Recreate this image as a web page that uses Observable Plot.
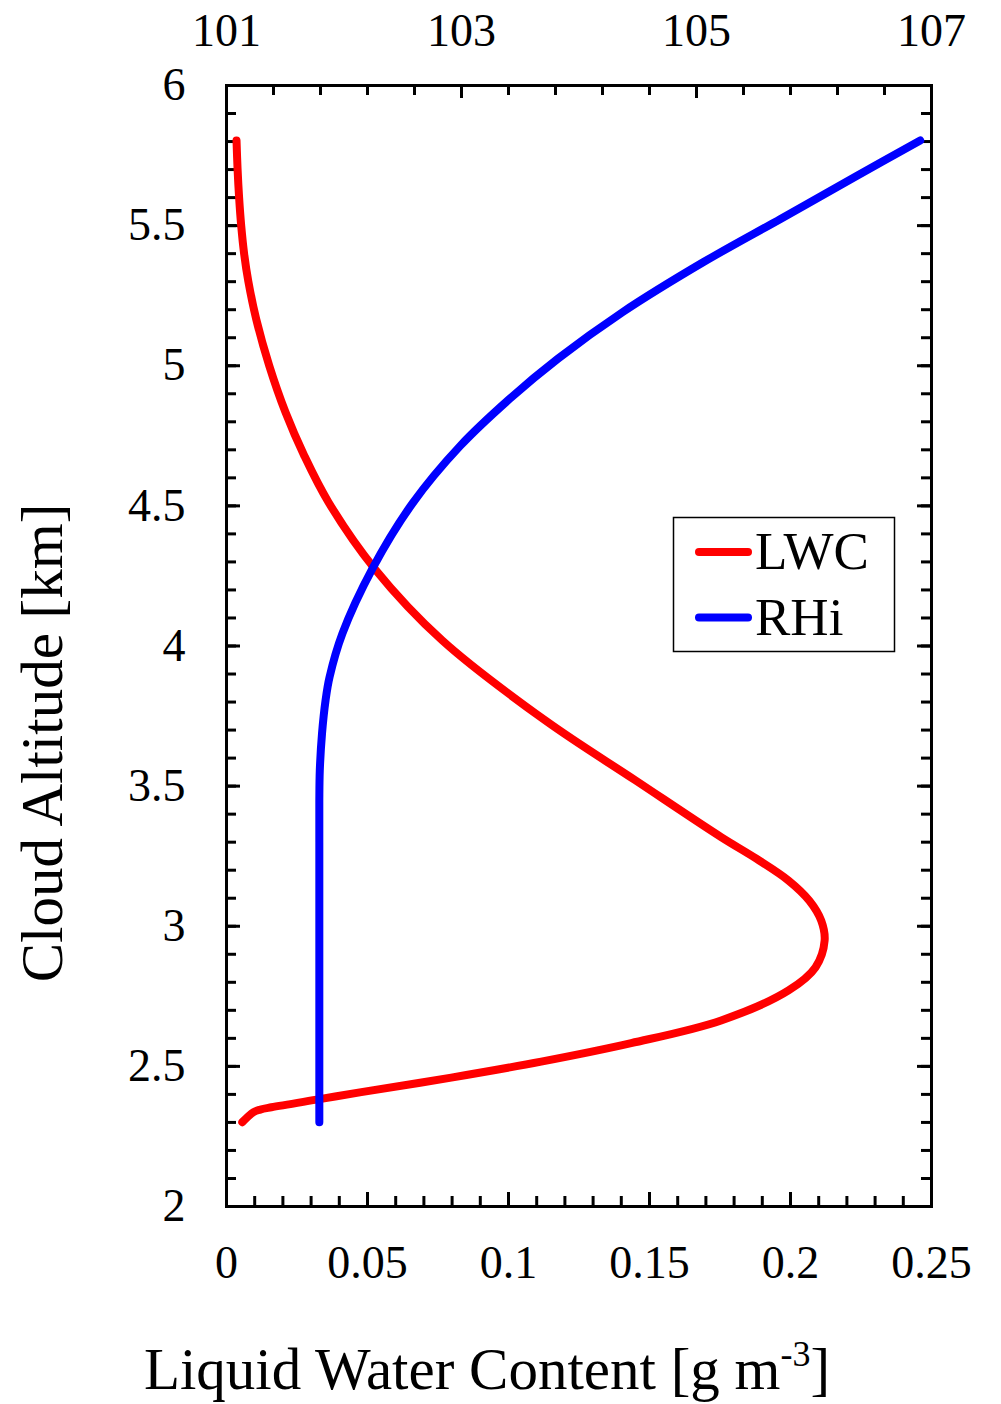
<!DOCTYPE html>
<html>
<head>
<meta charset="utf-8">
<script src="https://cdn.jsdelivr.net/npm/d3@7"></script>
<script src="https://cdn.jsdelivr.net/npm/@observablehq/plot@0.6"></script>
<style>
  html, body { margin: 0; padding: 0; background: #fff; }
  #chart { width: 1001px; height: 1404px; }
</style>
</head>
<body>
<div id="chart"></div>
<script>
// ---- data ----
const lwcAlt = [5.804, 5.703, 5.600, 5.500, 5.400, 5.301, 5.167, 5.001, 4.834, 4.680, 4.513, 4.275, 4.020, 3.734, 3.520, 3.318, 3.241, 3.163, 3.091, 3.020, 2.949, 2.854, 2.771, 2.664, 2.583, 2.517, 2.460, 2.408, 2.383, 2.354, 2.346, 2.337, 2.301];
const lwcVal = [0.00355, 0.00392, 0.00447, 0.00521, 0.00625, 0.00774, 0.01052, 0.01513, 0.02092, 0.02754, 0.03617, 0.0526, 0.0765, 0.1131, 0.1451, 0.1754, 0.1879, 0.1993, 0.2067, 0.2109, 0.2121, 0.2089, 0.1993, 0.1754, 0.1435, 0.1116, 0.0797, 0.0478, 0.0330, 0.0159, 0.0120, 0.0096, 0.0056];

const rhiAlt = [2.301, 2.600, 3.000, 3.300, 3.449, 3.556, 3.688, 3.806, 3.889, 4.045, 4.277, 4.509, 4.715, 4.882, 5.025, 5.191, 5.370, 5.524, 5.679, 5.804];
const rhiVal = [101.79, 101.79, 101.79, 101.79, 101.79, 101.794, 101.813, 101.843, 101.877, 101.987, 102.243, 102.583, 102.991, 103.41, 103.82, 104.37, 105.06, 105.715, 106.37, 106.904];

const xTickLabels = [0, 0.05, 0.1, 0.15, 0.2, 0.25];
const rhiTickLabels = [101, 103, 105, 107];
const yTickLabels = [2, 2.5, 3, 3.5, 4, 4.5, 5, 5.5, 6];
const seriesNames = ["LWC", "RHi"];
const seriesColors = ["#ff0000", "#0000ff"];

// ---- derived tables ----
const lwcData = lwcAlt.map((a, i) => ({alt: a, lwc: lwcVal[i]}));
const rhiData = rhiAlt.map((a, i) => ({alt: a, rhi: rhiVal[i]}));
const rhiDomain = [101, 107];
const xDomain = [0, 0.25];
const rhiToX = r => (r - rhiDomain[0]) / (rhiDomain[1] - rhiDomain[0]) * (xDomain[1] - xDomain[0]) + xDomain[0];

const xMinor = d3.range(0, 26).map(i => i * 0.01);
const rhiMinor = d3.range(0, 16).map(i => 101 + i * 0.4);
const yMinor = d3.range(0, 41).map(i => 2 + i * 0.1);

const W = 1001, H = 1404;
const mL = 226, mR = 70, mT = 85, mB = 198;
const PW = W - mL - mR, PH = H - mT - mB;
const font = "Liberation Serif, Times New Roman, serif";
const tickW = 3;
const lineW = 8;

const plot = Plot.plot({
  width: W, height: H,
  marginLeft: mL, marginRight: mR, marginTop: mT, marginBottom: mB,
  style: {fontFamily: font, fontSize: "46px", color: "#000", background: "#fff"},
  x: {domain: xDomain, axis: null},
  y: {domain: [2, 6], axis: null},
  marks: [
    // ticks (inward)
    Plot.ruleX(xMinor, {insetTop: PH - 10, strokeWidth: tickW}),
    Plot.ruleX(xTickLabels, {insetTop: PH - 14, strokeWidth: tickW}),
    Plot.ruleX(rhiMinor.map(rhiToX), {insetBottom: PH - 10, strokeWidth: tickW}),
    Plot.ruleX(rhiTickLabels.map(rhiToX), {insetBottom: PH - 13, strokeWidth: tickW}),
    Plot.ruleY(yMinor, {insetRight: PW - 10, strokeWidth: tickW}),
    Plot.ruleY(yTickLabels, {insetRight: PW - 14, strokeWidth: tickW}),
    Plot.ruleY(yMinor, {insetLeft: PW - 10, strokeWidth: tickW}),
    Plot.ruleY(yTickLabels, {insetLeft: PW - 14, strokeWidth: tickW}),
    // tick labels
    Plot.axisX(xTickLabels, {anchor: "bottom", tickSize: 0, tickPadding: 39, label: null, fontSize: 46, tickFormat: d => String(d)}),
    Plot.axisX(rhiTickLabels.map(rhiToX), {anchor: "top", tickSize: 0, tickPadding: 40, label: null, fontSize: 46, tickFormat: d => String(Math.round(rhiDomain[0] + (d - xDomain[0]) / (xDomain[1] - xDomain[0]) * (rhiDomain[1] - rhiDomain[0])))}),
    Plot.axisY(yTickLabels, {anchor: "left", tickSize: 0, tickPadding: 41, label: null, fontSize: 46, tickFormat: d => String(d)}),
    // data
    Plot.line(lwcData, {x: "lwc", y: "alt", stroke: seriesColors[0], strokeWidth: lineW, curve: "catmull-rom", strokeLinecap: "round", strokeLinejoin: "round"}),
    Plot.line(rhiData, {x: d => rhiToX(d.rhi), y: "alt", stroke: seriesColors[1], strokeWidth: lineW, curve: "catmull-rom", strokeLinecap: "round", strokeLinejoin: "round"}),
    Plot.frame({stroke: "#000", strokeWidth: 3})
  ]
});
document.getElementById("chart").appendChild(plot);

// ---- axis titles and legend ----
const svg = d3.select(plot);
svg.append("text")
  .attr("transform", "translate(62,743) rotate(-90)")
  .attr("text-anchor", "middle")
  .attr("font-family", font).attr("font-size", 59).attr("fill", "#000")
  .text("Cloud Altitude [km]");

const xt = svg.append("text")
  .attr("x", 487).attr("y", 1389)
  .attr("text-anchor", "middle")
  .attr("font-family", font).attr("font-size", 59).attr("fill", "#000");
xt.append("tspan").text("Liquid Water Content [g m");
xt.append("tspan").attr("dy", -23).attr("font-size", 36).text("-3");
xt.append("tspan").attr("dy", 23).text("]");

const lg = svg.append("g");
lg.append("rect").attr("x", 673.5).attr("y", 517.5).attr("width", 221).attr("height", 134)
  .attr("fill", "#fff").attr("stroke", "#000").attr("stroke-width", 1.5);
seriesNames.forEach((name, i) => {
  const cy = 552 + i * 65.5;
  lg.append("line").attr("x1", 699).attr("x2", 748).attr("y1", cy).attr("y2", cy)
    .attr("stroke", seriesColors[i]).attr("stroke-width", lineW).attr("stroke-linecap", "round");
  lg.append("text").attr("x", 755).attr("y", cy + 17)
    .attr("text-anchor", "start")
    .attr("font-family", font).attr("font-size", 53).attr("fill", "#000").text(name);
});
</script>
</body>
</html>
